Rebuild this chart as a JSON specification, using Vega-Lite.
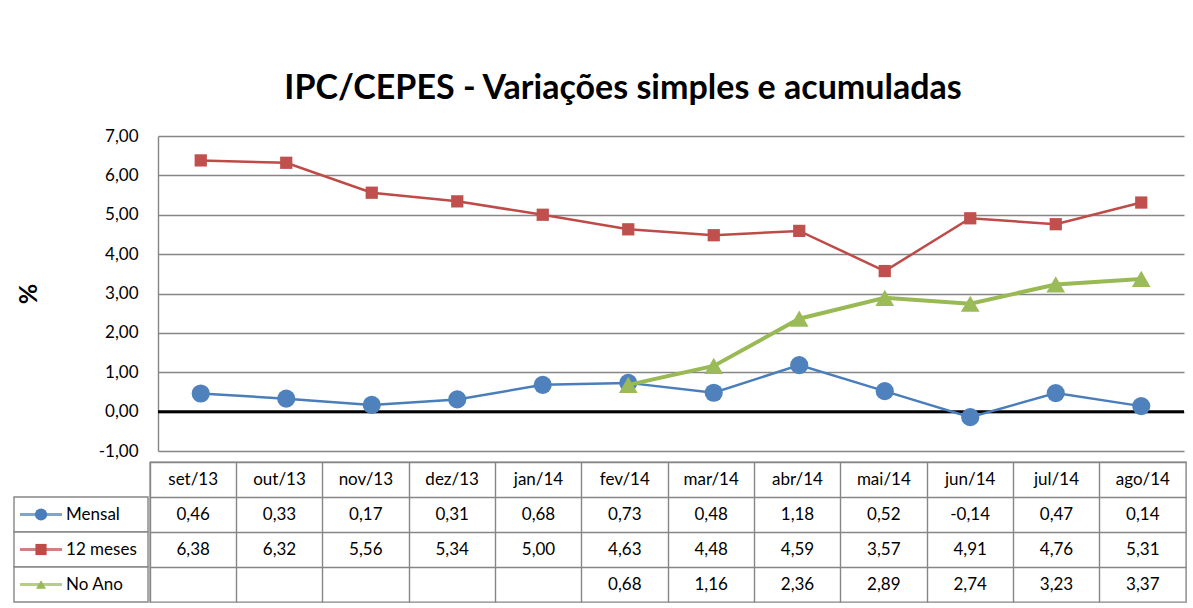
{
  "$schema": "https://vega.github.io/schema/vega-lite/v6.json",
  "background": "white",
  "padding": {"left": 13, "top": 72, "right": 10, "bottom": 6},
  "config": {
    "font": "Lato",
    "locale": {"number": {"decimal": ",", "thousands": ".", "grouping": [3], "currency": ["", ""], "minus": "-"}},
    "view": {"stroke": null}
  },
  "title": {"text": "IPC/CEPES - Variações simples e acumuladas", "font": "Lato", "fontSize": 34, "fontWeight": "bold", "color": "black", "anchor": "middle", "offset": 21, "dx": 23},
  "datasets": {
    "ipc": [
      {"mes": "set/13", "serie": "Mensal", "valor": 0.46},
      {"mes": "out/13", "serie": "Mensal", "valor": 0.33},
      {"mes": "nov/13", "serie": "Mensal", "valor": 0.17},
      {"mes": "dez/13", "serie": "Mensal", "valor": 0.31},
      {"mes": "jan/14", "serie": "Mensal", "valor": 0.68},
      {"mes": "fev/14", "serie": "Mensal", "valor": 0.73},
      {"mes": "mar/14", "serie": "Mensal", "valor": 0.48},
      {"mes": "abr/14", "serie": "Mensal", "valor": 1.18},
      {"mes": "mai/14", "serie": "Mensal", "valor": 0.52},
      {"mes": "jun/14", "serie": "Mensal", "valor": -0.14},
      {"mes": "jul/14", "serie": "Mensal", "valor": 0.47},
      {"mes": "ago/14", "serie": "Mensal", "valor": 0.14},
      {"mes": "set/13", "serie": "12 meses", "valor": 6.38},
      {"mes": "out/13", "serie": "12 meses", "valor": 6.32},
      {"mes": "nov/13", "serie": "12 meses", "valor": 5.56},
      {"mes": "dez/13", "serie": "12 meses", "valor": 5.34},
      {"mes": "jan/14", "serie": "12 meses", "valor": 5.00},
      {"mes": "fev/14", "serie": "12 meses", "valor": 4.63},
      {"mes": "mar/14", "serie": "12 meses", "valor": 4.48},
      {"mes": "abr/14", "serie": "12 meses", "valor": 4.59},
      {"mes": "mai/14", "serie": "12 meses", "valor": 3.57},
      {"mes": "jun/14", "serie": "12 meses", "valor": 4.91},
      {"mes": "jul/14", "serie": "12 meses", "valor": 4.76},
      {"mes": "ago/14", "serie": "12 meses", "valor": 5.31},
      {"mes": "fev/14", "serie": "No Ano", "valor": 0.68},
      {"mes": "mar/14", "serie": "No Ano", "valor": 1.16},
      {"mes": "abr/14", "serie": "No Ano", "valor": 2.36},
      {"mes": "mai/14", "serie": "No Ano", "valor": 2.89},
      {"mes": "jun/14", "serie": "No Ano", "valor": 2.74},
      {"mes": "jul/14", "serie": "No Ano", "valor": 3.23},
      {"mes": "ago/14", "serie": "No Ano", "valor": 3.37}
    ]
  },
  "data": {"name": "ipc"},
  "spacing": 2,
  "resolve": {"scale": {"x": "independent", "y": "independent"}},
  "vconcat": [
    {
      "spacing": 0,
      "resolve": {"scale": {"x": "independent", "y": "independent"}},
      "hconcat": [
        {
          "width": 2,
          "height": 10,
          "data": {"values": [{}]},
          "mark": {"type": "text", "text": ""}
        },
        {
          "width": 1026,
          "height": 315,
          "layer": [
            {
              "data": {"values": [{}]},
              "mark": {"type": "rule", "color": "black", "strokeWidth": 3},
              "encoding": {"y": {"datum": 0, "type": "quantitative", "title": "%", "scale": {"domain": [-1, 7], "nice": false, "zero": false},
                "axis": {"values": [-1, 0, 1, 2, 3, 4, 5, 6, 7], "format": ".2f", "labelOverlap": false, "grid": true, "gridColor": "#868686", "gridWidth": 1.4, "domainColor": "#868686", "domainWidth": 1.4, "ticks": false, "labelPadding": 20, "labelFontSize": 17, "labelColor": "black", "labelFont": "Lato", "titleFontSize": 25, "titleFont": "Lato", "titleFontWeight": "bold", "titleColor": "black", "titlePadding": 57}}}
            },
            {
              "encoding": {
                "x": {"field": "mes", "type": "ordinal", "sort": ["set/13", "out/13", "nov/13", "dez/13", "jan/14", "fev/14", "mar/14", "abr/14", "mai/14", "jun/14", "jul/14", "ago/14"], "scale": {"type": "point", "padding": 0.5, "domain": ["set/13", "out/13", "nov/13", "dez/13", "jan/14", "fev/14", "mar/14", "abr/14", "mai/14", "jun/14", "jul/14", "ago/14"]}, "axis": null},
                "y": {"field": "valor", "type": "quantitative", "title": "%", "scale": {"domain": [-1, 7], "nice": false, "zero": false},
                  "axis": {"values": [-1, 0, 1, 2, 3, 4, 5, 6, 7], "format": ".2f", "labelOverlap": false, "grid": true, "gridColor": "#868686", "gridWidth": 1.4, "domainColor": "#868686", "domainWidth": 1.4, "ticks": false, "labelPadding": 20, "labelFontSize": 17, "labelColor": "black", "labelFont": "Lato", "titleFontSize": 25, "titleFont": "Lato", "titleFontWeight": "bold", "titleColor": "black", "titlePadding": 57}}
              },
              "layer": [
                {"transform": [{"filter": "datum.serie == 'Mensal'"}], "mark": {"type": "line", "color": "#4A7EBB", "strokeWidth": 2.5}},
                {"transform": [{"filter": "datum.serie == 'Mensal'"}], "mark": {"type": "point", "shape": "circle", "filled": true, "opacity": 1, "size": 330, "color": "#4F81BD"}},
                {"transform": [{"filter": "datum.serie == '12 meses'"}], "mark": {"type": "line", "color": "#BE4B48", "strokeWidth": 2.5}},
                {"transform": [{"filter": "datum.serie == '12 meses'"}], "mark": {"type": "point", "shape": "square", "filled": true, "opacity": 1, "size": 150, "color": "#C0504D"}},
                {"transform": [{"filter": "datum.serie == 'No Ano'"}], "mark": {"type": "line", "color": "#98B954", "strokeWidth": 4}},
                {"transform": [{"filter": "datum.serie == 'No Ano'"}], "mark": {"type": "point", "shape": "triangle-up", "filled": true, "opacity": 1, "size": 350, "color": "#9BBB59"}}
              ]
            }
          ]
        }
      ]
    },
    {
      "spacing": 0,
      "resolve": {"scale": {"x": "independent", "y": "independent"}},
      "hconcat": [
        {
          "width": 134,
          "height": 140,
          "transform": [{"filter": "datum.mes == 'ago/14'"}],
          "encoding": {
            "y": {"field": "serie", "type": "nominal", "scale": {"type": "band", "domain": ["h", "Mensal", "12 meses", "No Ano"], "paddingInner": 0, "paddingOuter": 0}, "axis": null}
          },
          "layer": [
            {"mark": {"type": "rect", "fill": "white", "stroke": "#868686", "strokeWidth": 1.4}},
            {"mark": {"type": "tick", "orient": "horizontal", "size": 42, "thickness": 3},
              "encoding": {
                "x": {"datum": "sim", "type": "nominal", "scale": {"type": "band", "domain": ["sim", "nome"], "paddingInner": 0, "paddingOuter": 0.24, "align": 0}, "axis": null},
                "color": {"field": "serie", "type": "nominal", "scale": {"domain": ["Mensal", "12 meses", "No Ano"], "range": ["#4A7EBB", "#BE4B48", "#98B954"]}, "legend": null}
              }},
            {"mark": {"type": "point", "filled": true, "opacity": 1},
              "encoding": {
                "x": {"datum": "sim", "type": "nominal"},
                "color": {"field": "serie", "type": "nominal", "legend": null},
                "shape": {"field": "serie", "type": "nominal", "scale": {"domain": ["Mensal", "12 meses", "No Ano"], "range": ["circle", "square", "triangle-up"]}, "legend": null},
                "size": {"field": "serie", "type": "nominal", "scale": {"domain": ["Mensal", "12 meses", "No Ano"], "range": [150, 100, 170]}, "legend": null}
              }},
            {"mark": {"type": "text", "align": "left", "baseline": "middle", "fontSize": 17, "color": "black", "dx": -2},
              "encoding": {
                "x": {"datum": "nome", "type": "nominal", "bandPosition": 0},
                "text": {"field": "serie", "type": "nominal"}
              }}
          ]
        },
        {
          "width": 1036,
          "height": 140,
          "view": {"stroke": "#868686", "strokeWidth": 1.4},
          "encoding": {
            "x": {"field": "mes", "type": "ordinal", "scale": {"type": "band", "domain": ["set/13", "out/13", "nov/13", "dez/13", "jan/14", "fev/14", "mar/14", "abr/14", "mai/14", "jun/14", "jul/14", "ago/14"], "paddingInner": 0, "paddingOuter": 0},
              "axis": {"grid": true, "bandPosition": 0, "labels": false, "ticks": false, "domain": false, "title": null, "gridColor": "#868686", "gridWidth": 1.4, "minExtent": 0, "maxExtent": 0}},
            "y": {"field": "serie", "type": "nominal", "scale": {"type": "band", "domain": ["h", "Mensal", "12 meses", "No Ano"], "paddingInner": 0, "paddingOuter": 0},
              "axis": {"grid": true, "bandPosition": 0, "labels": false, "ticks": false, "domain": false, "title": null, "gridColor": "#868686", "gridWidth": 1.4, "minExtent": 0, "maxExtent": 0}}
          },
          "layer": [
            {"mark": {"type": "text", "fontSize": 17, "color": "black", "baseline": "middle"},
              "encoding": {"text": {"field": "valor", "type": "quantitative", "format": ".2f"}}},
            {"transform": [{"filter": "datum.serie == 'Mensal'"}],
              "mark": {"type": "text", "fontSize": 17, "color": "black", "baseline": "middle"},
              "encoding": {"y": {"datum": "h", "type": "nominal"}, "text": {"field": "mes", "type": "nominal"}}}
          ]
        }
      ]
    }
  ]
}
